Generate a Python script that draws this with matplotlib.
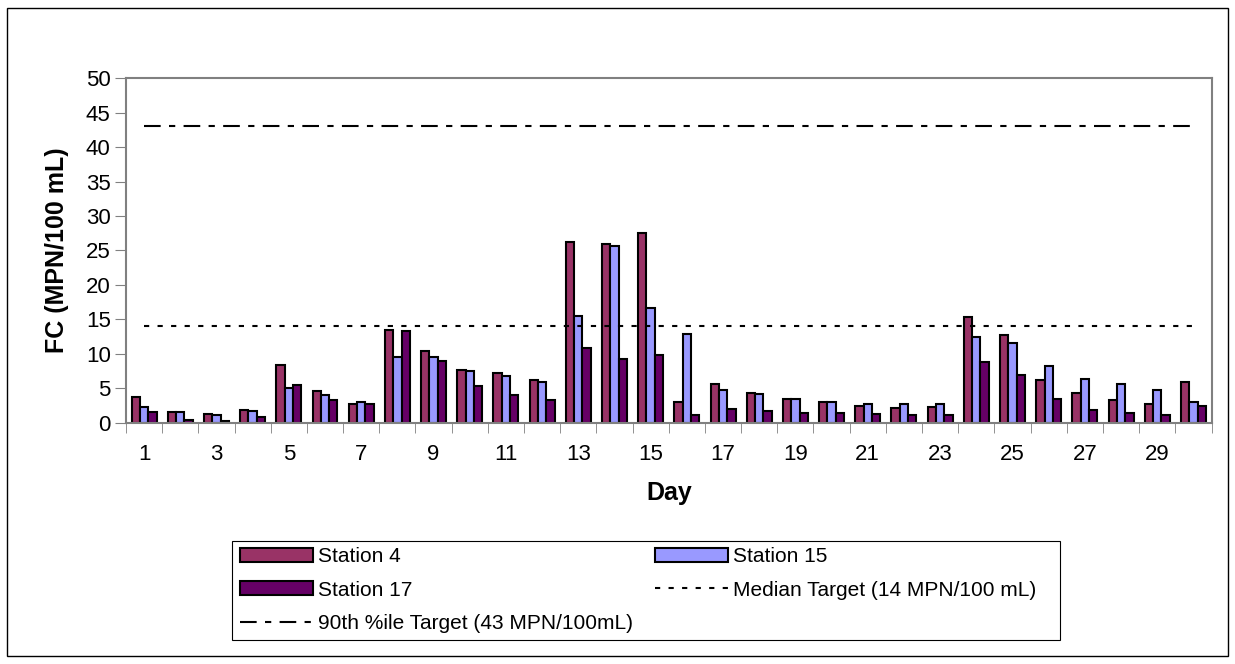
import matplotlib.pyplot as plt
import numpy as np
from matplotlib.patches import Rectangle

plt.rcParams['font.family'] = ['Liberation Sans', 'DejaVu Sans']

# data
days = list(range(1, 31))
station4 = [3.8, 1.6, 1.3, 1.9, 8.4, 4.7, 2.8, 13.5, 10.5, 7.7,
            7.3, 6.2, 26.2, 25.9, 27.5, 3.1, 5.7, 4.4, 3.5, 3.0,
            2.5, 2.1, 2.3, 15.3, 12.8, 6.3, 4.4, 3.4, 2.8, 6.0]
station15 = [2.3, 1.6, 1.2, 1.7, 5.1, 4.0, 3.0, 9.6, 9.6, 7.5,
             6.8, 6.0, 15.5, 25.7, 16.7, 12.9, 4.8, 4.2, 3.5, 3.1,
             2.8, 2.7, 2.7, 12.4, 11.6, 8.3, 6.4, 5.6, 4.8, 3.0]
station17 = [1.6, 0.5, 0.3, 0.8, 5.5, 3.4, 2.7, 13.3, 9.0, 5.3,
             4.0, 3.3, 10.9, 9.2, 9.8, 1.1, 2.0, 1.8, 1.4, 1.4,
             1.3, 1.1, 1.2, 8.9, 7.0, 3.5, 1.9, 1.4, 1.2, 2.4]
median_target = 14
p90_target = 43

c4 = '#993366'
c15 = '#9999ff'
c17 = '#660066'

fig = plt.figure(figsize=(12.35, 6.64), dpi=100)
ax = fig.add_axes([0.102, 0.363, 0.879, 0.5195])

x = np.array(days)
w = 0.23
b4 = ax.bar(x - w, station4, w, color=c4, edgecolor='black', linewidth=1.5, label='Station 4')
b15 = ax.bar(x, station15, w, color=c15, edgecolor='black', linewidth=1.5, label='Station 15')
b17 = ax.bar(x + w, station17, w, color=c17, edgecolor='black', linewidth=1.5, label='Station 17')

lm, = ax.plot(x, [median_target] * len(x), color='black', linewidth=1.5,
              linestyle=(0, (2.5, 4)), label='Median Target (14 MPN/100 mL)')
lp, = ax.plot(x, [p90_target] * len(x), color='black', linewidth=1.5,
              linestyle=(0, (8, 4, 3, 4)), label='90th %ile Target (43 MPN/100mL)')

ax.set_xlim(0.5, 30.5)
ax.set_ylim(0, 50)
ax.set_yticks(range(0, 51, 5))
ax.set_xticks(days[::2])
ax.set_xticks(np.arange(0.5, 31, 1), minor=True)
ax.tick_params(axis='x', which='major', length=0, labelsize=16, pad=15)
ax.tick_params(axis='x', which='minor', length=7, direction='out', color='#808080')
ax.tick_params(axis='y', labelsize=16, length=8, direction='out', color='#808080', pad=3)
for s in ax.spines.values():
    s.set_color('#808080')
    s.set_linewidth(1.5)

ax.set_xlabel('Day', fontsize=18, fontweight='bold', labelpad=12)
ax.set_ylabel('FC (MPN/100 mL)', fontsize=18, fontweight='bold', labelpad=12)

# legend: frame drawn separately so the columns can sit like the original
handles = [b4, b17, lp, b15, lm]
leg = fig.legend(handles=handles, labels=[h.get_label() for h in handles],
                 ncol=2, loc='upper left', bbox_to_anchor=(0.189, 0.185),
                 fontsize=15, frameon=False, handlelength=3.5, handleheight=0.65,
                 handletextpad=0.25, labelspacing=0.68, columnspacing=1.05,
                 borderaxespad=0, borderpad=0.3)

fig.patches.append(Rectangle((0.188, 0.036), 0.670, 0.149, transform=fig.transFigure,
                             fill=False, edgecolor='black', linewidth=0.8))
fig.patches.append(Rectangle((0.006, 0.012), 0.988, 0.976, transform=fig.transFigure,
                             fill=False, edgecolor='black', linewidth=1))

fig.savefig('out.png', dpi=100)
